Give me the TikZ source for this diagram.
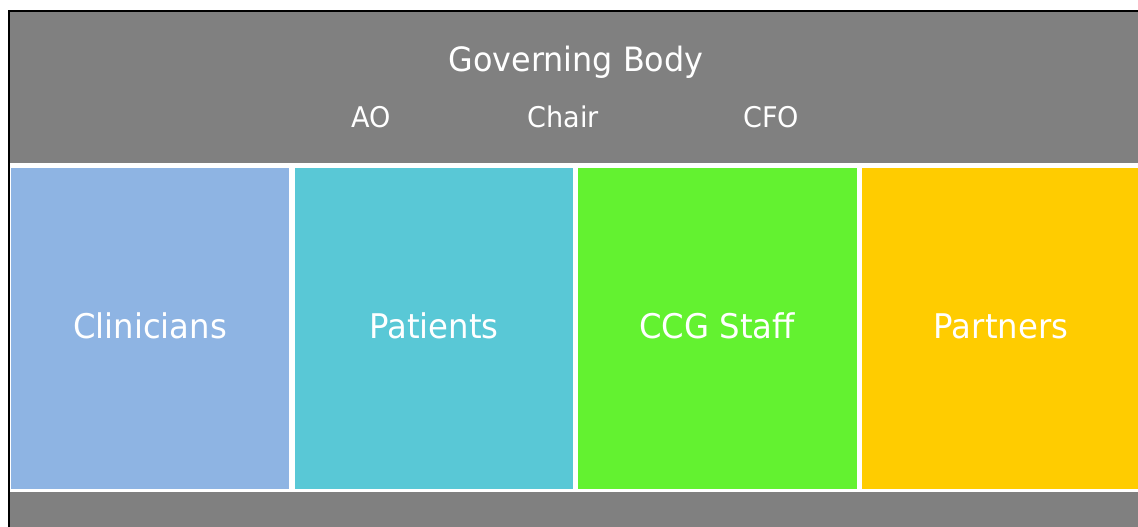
\documentclass[tikz,border=0pt]{standalone}
\usepackage{fontspec}
\setmainfont{DejaVu Sans}
\newfontfamily\labelfont[FakeStretch=0.95]{DejaVu Sans}
\definecolor{panelgray}{RGB}{128,128,128}
\definecolor{clinblue}{RGB}{142,180,227}
\definecolor{patcyan}{RGB}{89,200,214}
\definecolor{staffgreen}{RGB}{99,242,48}
\definecolor{partyellow}{RGB}{255,204,0}
\tikzset{
  grouplabel/.style={text=white, font=\labelfont\fontsize{34}{38}\selectfont, anchor=base, inner sep=0pt},
  titlelabel/.style={text=white, font=\labelfont\fontsize{33.5}{38}\selectfont, anchor=base, inner sep=0pt},
  rolelabel/.style={text=white, font=\labelfont\fontsize{28.5}{32}\selectfont, anchor=base, inner sep=0pt}
}
\begin{document}
\begin{tikzpicture}[x=1pt,y=-1pt]
  \useasboundingbox (0,0) rectangle (1138,527);
  \fill[white] (0,0) rectangle (1138,527);
  % outer frame and gray panel
  \fill[panelgray] (9,11) rectangle (1140,529);
  \draw[black, line width=2pt] (9,529) -- (9,11) -- (1140,11);
  % white band behind the group boxes
  \fill[white] (10,163) rectangle (1140,492);
  % group boxes
  \fill[clinblue]   (11,168)  rectangle (289,489);
  \fill[patcyan]    (295,168) rectangle (573,489);
  \fill[staffgreen] (578,168) rectangle (857,489);
  \fill[partyellow] (862,168) rectangle (1140,489);
  % titles
  \node[titlelabel] (gb) at (576,72) {Governing Body};
  \node[rolelabel] (ao) at (371,127) {AO};
  \node[rolelabel] (chair) at (563,127) {Chair};
  \node[rolelabel] (cfo) at (771,127) {CFO};
  % group labels
  \node[grouplabel] (clin) at (150,338) {Clinicians};
  \node[grouplabel] (pat) at (434,338) {Patients};
  \node[grouplabel] (staff) at (717,338) {CCG Staff};
  \node[grouplabel] (part) at (1001,338) {Partners};
\end{tikzpicture}
\end{document}
